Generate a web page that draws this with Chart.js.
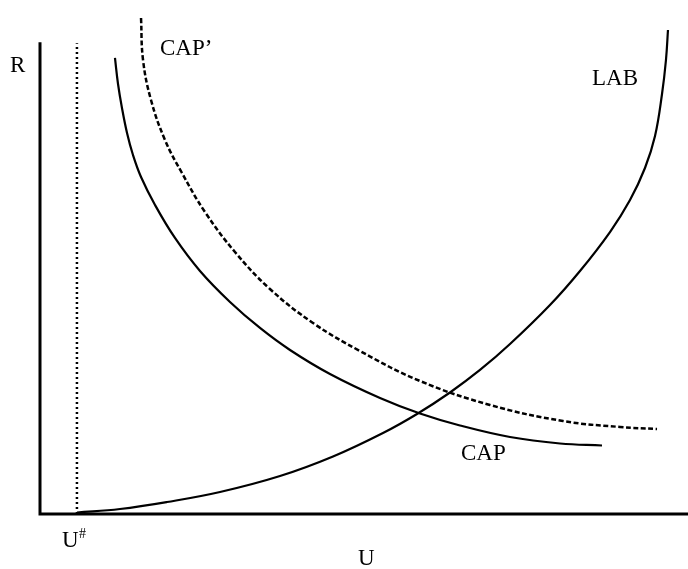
<!DOCTYPE html>
<html>
<head>
<meta charset="utf-8">
<script src="https://cdn.jsdelivr.net/npm/chart.js@4.4.1/dist/chart.umd.min.js"></script>
<style>
  html, body { margin: 0; padding: 0; background: #fff; }
  #wrap { width: 688px; height: 569px; }
</style>
</head>
<body>
<div id="wrap"><canvas id="chart" width="688" height="569"></canvas></div>
<script>
// --- DATA (U on x, R on y, arbitrary units 0..100) ---
const capX = [11.57, 12.04, 12.65, 13.43, 14.35, 15.59, 17.75, 20.83, 24.69, 29.32, 33.95, 38.58, 44.75, 52.47, 58.64, 64.81, 72.53, 80.25, 86.73];
const capY = [88.72, 83.66, 78.99, 74.12, 69.84, 65.56, 60.12, 53.70, 47.28, 41.25, 36.19, 31.91, 27.24, 22.57, 19.55, 17.22, 14.98, 13.72, 13.33];

const capPrimeX = [15.59, 15.90, 17.13, 19.29, 21.91, 25.46, 30.09, 35.49, 42.13, 49.38, 58.64, 69.44, 80.71, 89.51, 95.22];
const capPrimeY = [96.50, 88.33, 80.54, 72.76, 66.34, 58.75, 50.97, 43.77, 37.16, 31.71, 25.88, 21.21, 18.09, 16.93, 16.54];

const labX = [5.71, 12.35, 19.60, 27.78, 37.04, 45.22, 52.93, 58.18, 63.27, 67.90, 72.53, 78.70, 83.33, 87.96, 91.05, 93.36, 94.91, 95.99, 96.60, 96.91];
const labY = [0.29, 0.97, 2.33, 4.28, 7.39, 11.19, 15.76, 19.46, 23.64, 28.02, 33.07, 40.66, 47.28, 54.86, 61.09, 67.32, 73.54, 81.71, 88.33, 94.16];

const uSharp = 5.7;      // U# position on the U axis
const axisTopR = 91.8;   // where the R axis line stops
const dottedTopR = 91.6; // where the U# line stops

const zip = (xs, ys) => xs.map((x, i) => ({ x: x, y: ys[i] }));

// --- TEXT LABELS (drawn on the canvas, pixel placement) ---
const FONT = '23px "Liberation Serif", "Times New Roman", serif';
const labelPlugin = {
    id: 'labels',
    afterDatasetsDraw(chart) {
        const c = chart.ctx;
        c.save();
        c.fillStyle = '#000';
        c.textBaseline = 'alphabetic';
        c.textAlign = 'left';
        c.font = FONT;
        c.fillText('R', 10, 72);
        c.fillText('CAP\u2019', 160, 55);
        c.fillText('LAB', 592, 85);
        c.fillText('CAP', 461, 460);
        c.fillText('U', 62, 547);
        c.fillText('U', 358, 565);
        c.font = '14px "Liberation Serif", "Times New Roman", serif';
        c.fillText('#', 79, 538);
        c.restore();
    }
};

const line = (data, opts) => Object.assign({
    data: data,
    showLine: true,
    borderColor: '#000',
    borderWidth: 2.2,
    pointRadius: 0,
    fill: false,
    clip: false,
    tension: 0.4
}, opts);

new Chart(document.getElementById('chart'), {
    type: 'scatter',
    data: {
        datasets: [
            // axes
            line([{ x: 0, y: axisTopR }, { x: 0, y: 0 }, { x: 100, y: 0 }], { borderWidth: 3, tension: 0 }),
            // U# dotted line
            line([{ x: uSharp, y: 0 }, { x: uSharp, y: dottedTopR }], { borderWidth: 2.5, borderDash: [2, 3], tension: 0 }),
            // CAP
            line(zip(capX, capY)),
            // CAP'
            line(zip(capPrimeX, capPrimeY), { borderWidth: 2.5, borderDash: [5, 2.5] }),
            // LAB
            line(zip(labX, labY))
        ]
    },
    options: {
        responsive: false,
        animation: false,
        layout: { padding: { left: 40, right: 0, top: 0, bottom: 55 } },
        plugins: { legend: { display: false }, tooltip: { enabled: false } },
        scales: {
            x: { type: 'linear', min: 0, max: 100, display: false },
            y: { type: 'linear', min: 0, max: 100, display: false }
        }
    },
    plugins: [labelPlugin]
});
</script>
</body>
</html>
